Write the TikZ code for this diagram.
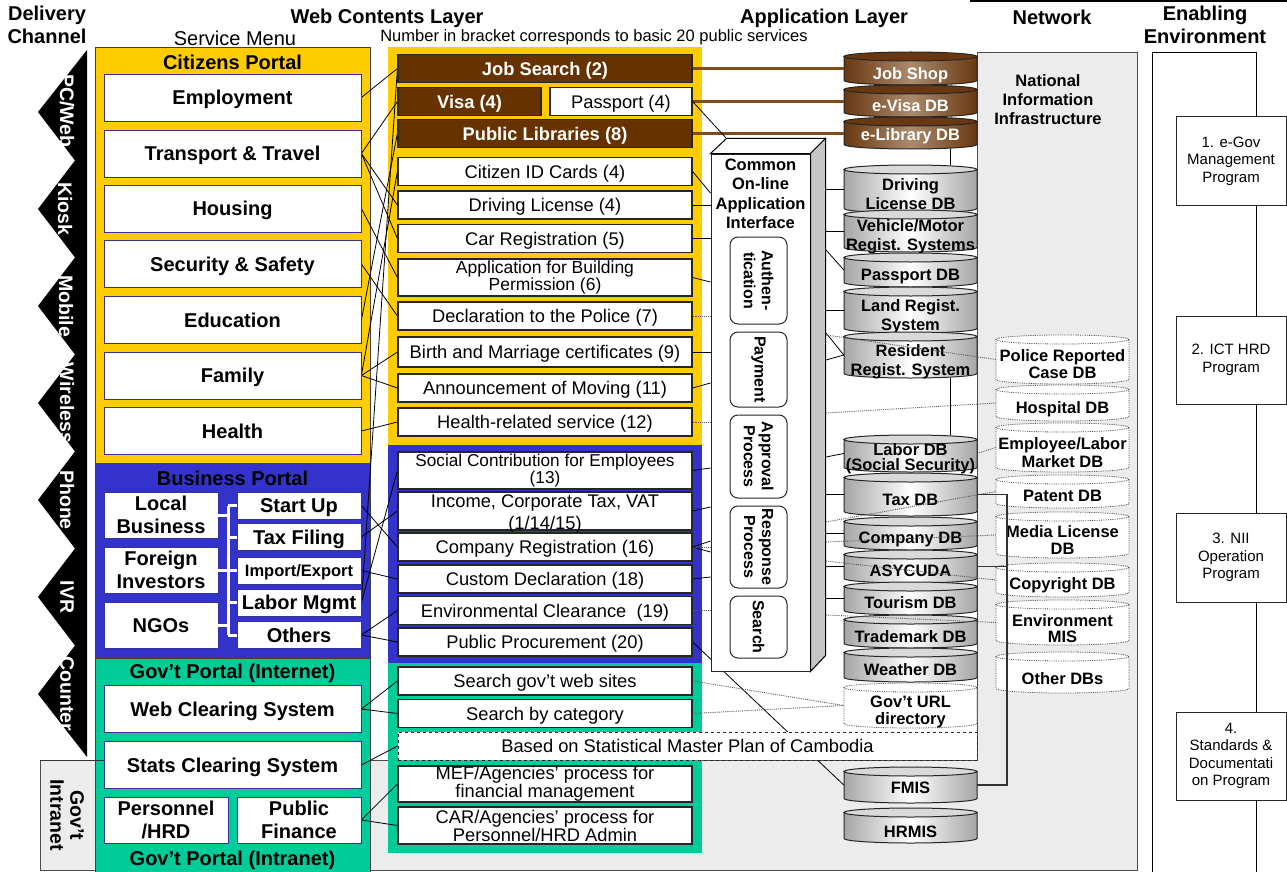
\documentclass[tikz,border=0pt]{standalone}
\usepackage{fontspec}
\setmainfont{Liberation Sans}
\usetikzlibrary{calc,positioning}

\definecolor{portalyellow}{RGB}{255,204,0}
\definecolor{portalblue}{RGB}{51,51,204}
\definecolor{portalgreen}{RGB}{0,204,153}
\definecolor{webbrown}{RGB}{102,51,0}
\definecolor{linkbrown}{RGB}{128,77,26}
\definecolor{dbbrown}{RGB}{105,56,16}
\definecolor{dblight}{RGB}{170,138,110}
\definecolor{niigray}{RGB}{236,236,236}
\definecolor{menuedge}{RGB}{51,51,153}

\pgfdeclarelayer{back}
\pgfdeclarelayer{mid}
\pgfsetlayers{back,mid,main}

\tikzset{
  oneline/.style={text height=#1, text depth=0pt},
  multi/.style={text height=, text depth=},
  hdr/.style={font=\bfseries\fontsize{20}{23}\selectfont, align=center, inner sep=0pt},
  sub/.style={font=\fontsize{20}{23}\selectfont, inner sep=0pt},
  note/.style={font=\fontsize{16.5}{19}\selectfont, inner sep=0pt},
  chan/.style={rotate=-90, text=white, font=\bfseries\fontsize{19.5}{22}\selectfont, inner sep=0pt},
  intra/.style={rotate=-90, align=center, font=\bfseries\fontsize{19.5}{20}\selectfont, inner sep=0pt},
  panel/.style={draw=black!75, line width=0.8pt},
  nii/.style={draw=black!70, line width=0.8pt, fill=niigray},
  menubox/.style={draw=menuedge, fill=white, line width=0.8pt, align=center, inner sep=0pt, oneline=14.4pt,
    font=\bfseries\fontsize{20}{23}\selectfont, minimum width=257pt, minimum height=47pt},
  bizbox/.style={menubox, minimum width=114pt, minimum height=46pt},
  actbox/.style={menubox, minimum width=124pt, minimum height=27pt},
  webbox/.style={draw=black!85, fill=white, line width=1.2pt, align=center, inner sep=0pt, oneline=13.2pt,
    font=\fontsize{18.3}{17}\selectfont, minimum width=294pt, minimum height=28pt},
  webtext/.style={align=center, inner sep=0pt, font=\fontsize{18.3}{21}\selectfont},
  brownbox/.style={webbox, fill=webbrown, text=white, font=\bfseries\fontsize{18.3}{17}\selectfont},
  smpbox/.style={webbox, dashed, line width=1pt, minimum width=579pt},
  procbox/.style={draw=black!85, fill=white, line width=1pt, rounded corners=8pt, rotate=-90,
    minimum height=57pt, align=center, inner sep=0pt, font=\bfseries\fontsize{16}{18}\selectfont},
  progbox/.style={draw=black!85, fill=white, line width=1pt, minimum width=110pt, minimum height=88pt,
    align=center, inner sep=0pt, font=\fontsize{15}{17.5}\selectfont},
  link/.style={draw=black, line width=0.8pt},
  dotlink/.style={draw=black!65, line width=0.9pt, densely dotted},
  brownlink/.style={draw=linkbrown, line width=3pt},
  treelink/.style={draw=white, line width=3pt},
  bracket/.style={draw=black!80, line width=1.8pt},
  graydb body/.style={left color=gray!70, right color=gray!70, middle color=white, draw=black!85, line width=1pt},
  graydb top/.style={fill=gray!30, draw=black!85, line width=1pt},
  graydb text/.style={font=\bfseries\fontsize{16.5}{19}\selectfont, align=center, inner sep=0pt},
  browndb body/.style={left color=dbbrown, right color=dbbrown, middle color=dblight, draw=black!85, line width=1pt},
  browndb top/.style={fill=dbbrown, draw=black!85, line width=1pt},
  browndb text/.style={graydb text, text=white},
  dotdb body/.style={fill=white, draw=black!70, line width=0.8pt, densely dotted},
  dotdb top/.style={dotdb body},
  dotdb text/.style={graydb text},
}

% database cylinder: [look]{name}{left x}{top}{bottom}{text y}{text}
\newcommand{\dbcyl}[7][graydb]{%
  \pgfmathsetmacro{\dbcx}{#3+66.5}%
  \pgfmathsetmacro{\dbty}{#4+4.5}%
  \pgfmathsetmacro{\dbby}{#5-4.5}%
  \pgfmathsetmacro{\dbcy}{(#4+#5)/2}%
  \pgfmathsetmacro{\dbh}{#5-#4}%
  \path[#1 body] (#3,\dbty) -- (#3,\dbby) arc[start angle=180, end angle=360, x radius=66.5pt, y radius=4.5pt] -- (#3+133,\dbty) -- cycle;
  \path[#1 top] (\dbcx,\dbty) ellipse[x radius=66.5pt, y radius=4.5pt];
  \node[inner sep=0pt, minimum width=133pt, minimum height=\dbh pt] (#2) at (\dbcx,\dbcy) {};
  \node[#1 text] (#2-t) at (\dbcx,#6) {#7};
}

\begin{document}
\begin{tikzpicture}[x=1pt,y=-1pt]
\useasboundingbox (0,0) rectangle (1287,872);

\begin{pgfonlayer}{back}
\fill[white] (0,0) rectangle (1287,872);
% network area and enabling column
\draw[nii] (977,52) -- (1137,52) -- (1137,870) -- (40,870) -- (40,760) -- (977,760) -- cycle;
\draw[line width=1pt, fill=white] (1152,53) rectangle (1256,880);
\draw[line width=1.5pt] (970,1) -- (1287,1);
% delivery channels
\fill[black] (87,50) foreach \t in {112,209,306,403,500,597} { -- (38,\t) -- (75,\t+48.5) } -- (38,694) -- (87,757) -- cycle;
\node[chan] (ch1) at (67,111) {PC/Web};
\node[chan] (ch2) at (65,209) {Kiosk};
\node[chan] (ch3) at (66,306) {Mobile};
\node[chan] (ch4) at (67,403) {Wireless};
\node[chan] (ch5) at (67,500) {Phone};
\node[chan] (ch6) at (67,597) {IVR};
\node[chan] (ch7) at (67,694) {Counter};
\node[intra] (intra) at (67,815) {Gov’t\\Intranet};
% portals
\draw[panel, fill=portalyellow] (95,47) rectangle (370,463);
\draw[panel, fill=portalblue] (95,463) rectangle (370,658);
\draw[panel, fill=portalgreen] (95,658) rectangle (370,880);
\draw[black!80, line width=0.8pt] (40,760) -- (104,760);
% web contents
\fill[portalyellow] (388,47) rectangle (702,445);
\fill[portalblue] (388,445) rectangle (702,663);
\fill[portalgreen] (388,663) rectangle (702,853);
\end{pgfonlayer}

% headings
\node[hdr] (hdel) at (47,25) {Delivery\\Channel};
\node[hdr] (hweb) at (387,18) {Web Contents Layer};
\node[sub] (hsvc) at (235,38) {Service Menu};
\node[note] (hnum) at (594,37) {Number in bracket corresponds to basic 20 public services};
\node[hdr] (happ) at (824,18) {Application Layer};
\node[hdr] (hnet) at (1052,17) {Network};
\node[hdr] (henv) at (1205,25) {Enabling\\Environment};

% service menu
\node[hdr] (citt) at (232.5,62) {Citizens Portal};
\node[menubox] (emp) at (232.5,97.5) {Employment};
\node[menubox] (trans) at (232.5,153.5) {Transport \& Travel};
\node[menubox] (house) at (232.5,208.5) {Housing};
\node[menubox] (secur) at (232.5,264) {Security \& Safety};
\node[menubox] (edu) at (232.5,320) {Education};
\node[menubox] (fam) at (232.5,375.5) {Family};
\node[menubox] (health) at (232.5,431) {Health};

\node[hdr] (bust) at (232.5,478) {Business Portal};
\node[bizbox, multi] (local) at (161,515) {Local\\Business};
\node[bizbox, multi] (foreign) at (161,570) {Foreign\\Investors};
\node[bizbox] (ngo) at (161,625.5) {NGOs};
\node[actbox] (startup) at (299,505.5) {Start Up};
\node[actbox] (taxf) at (299,537) {Tax Filing};
\node[actbox, oneline=11.9pt, font=\bfseries\fontsize{16.5}{19}\selectfont] (impexp) at (299,570.5) {Import/Export};
\node[actbox] (labor) at (299,602.5) {Labor Mgmt};
\node[actbox] (others) at (299,635) {Others};
\coordinate (tree) at (228,0);
\draw[treelink] (startup.west -| tree) -- (others.west -| tree);
\foreach \n in {local,foreign,ngo} \draw[treelink] (\n.east) -- (\n.east -| tree);
\foreach \n in {startup,taxf,impexp,labor,others} \draw[treelink] (\n.west -| tree) -- (\n.west);

\node[hdr] (govt) at (232.5,673) {Gov’t Portal (Internet)};
\node[menubox] (webclr) at (232.5,709) {Web Clearing System};
\node[menubox] (stats) at (232.5,765) {Stats Clearing System};
\node[actbox, multi, minimum height=46pt] (pers) at (166,820) {Personnel\\/HRD};
\node[actbox, multi, minimum height=46pt] (pubfin) at (299,820) {Public\\Finance};
\node[hdr] (govi) at (232.5,860) {Gov’t Portal (Intranet)};

% web contents
\node[brownbox] (jobs) at (545,68.5) {Job Search (2)};
\node[brownbox, minimum width=143pt] (visa) at (469.5,101.5) {Visa (4)};
\node[webbox, minimum width=142pt] (passp) at (621,101.5) {Passport (4)};
\node[brownbox] (lib) at (545,133.5) {Public Libraries (8)};
\node[webbox] (citid) at (545,171.5) {Citizen ID Cards (4)};
\node[webbox] (drvl) at (545,205) {Driving License (4)};
\node[webbox] (carreg) at (545,238.5) {Car Registration (5)};
\node[webbox, multi, minimum height=37pt, font=\fontsize{17.5}{17}\selectfont] (build) at (545,277.5) {Application for Building\\Permission (6)};
\node[webbox] (police) at (545,316) {Declaration to the Police (7)};
\node[webbox, minimum height=30pt] (birth) at (545,352) {Birth and Marriage certificates (9)};
\node[webbox] (moving) at (545,388) {Announcement of Moving (11)};
\node[webbox] (hlthsv) at (545,422) {Health-related service (12)};
\node[webbox, multi, minimum height=37pt, font=\fontsize{17.2}{17}\selectfont] (social) at (545,470.5) {Social Contribution for Employees\\(13)};
\node[webbox, minimum height=38pt] (income) at (545,511) {};
\node[webtext] (income-t) at (545,514) {Income, Corporate Tax, VAT\\(1/14/15)};
\node[webbox] (compreg) at (545,547) {Company Registration (16)};
\node[webbox] (custom) at (545,579) {Custom Declaration (18)};
\node[webbox] (envclr) at (545,610.5) {Environmental Clearance\ \ (19)};
\node[webbox] (procure) at (545,642) {Public Procurement (20)};
\node[webbox] (srchweb) at (545,681) {Search gov’t web sites};
\node[webbox] (srchcat) at (545,713.5) {Search by category};
\node[smpbox] (smp) at (687.5,746) {Based on Statistical Master Plan of Cambodia};
\node[webbox, multi, minimum height=36pt] (mef) at (545,784) {MEF/Agencies’ process for\\financial management};
\node[webbox, multi, minimum height=37pt] (car) at (545,825.5) {CAR/Agencies’ process for\\Personnel/HRD Admin};

% common on-line application interface
\node[draw=black!85, fill=white, line width=1pt, minimum width=99pt, minimum height=517pt, inner sep=0pt] (cai) at (760.5,412.5) {};
\coordinate (caitl) at ($(cai.north west)+(16,-15)$);
\draw[line width=1pt, fill=white] (cai.north west) -- (caitl) -- ++(99,0) coordinate (caitr) -- (cai.north east) -- cycle;
\draw[line width=1pt, fill=gray!45] (cai.north east) -- (caitr) -- ++(0,517) -- (cai.south east) -- cycle;
\coordinate (cair) at (826,0);
\node[graydb text, font=\bfseries\fontsize{16.5}{19.5}\selectfont] (cait) at (760.5,194) {Common\\On-line\\Application\\Interface};
\node[procbox, minimum width=87pt] (auth) at (758.5,280.5) {Authen-\\tication};
\node[procbox, minimum width=75pt] (pay) at (758.5,369.5) {Payment};
\node[procbox, minimum width=83pt] (appr) at (758.5,456.5) {Approval\\Process};
\node[procbox, minimum width=82pt] (resp) at (758.5,547) {Response\\Process};
\node[procbox, minimum width=62pt] (srch) at (758.5,627) {Search};

% databases
\dbcyl[browndb]{jobshop}{844}{52}{85}{75.5}{Job Shop}
\dbcyl[browndb]{evisa}{844}{85}{117}{106}{e-Visa DB}
\dbcyl[browndb]{elib}{844}{117}{149}{136.5}{e-Library DB}
\dbcyl{drv}{844}{165}{213}{194.5}{Driving\\License DB}
\dbcyl{veh}{844}{210}{252}{236.5}{Vehicle/Motor\\Regist. Systems}
\dbcyl{pdb}{844}{253}{287}{276.5}{Passport DB}
\dbcyl{land}{844}{287}{333}{317}{Land Regist.\\System}
\dbcyl{res}{844}{332}{378}{362}{Resident\\Regist. System}
\dbcyl{labdb}{844}{435}{472}{459}{Labor DB\\[-4pt](Social Security)}
\dbcyl{tax}{844}{473}{516}{500}{Tax DB}
\dbcyl{comp}{844}{517}{550}{539.5}{Company DB}
\dbcyl{asy}{844}{550}{583}{571}{ASYCUDA}
\dbcyl{tour}{844}{582}{615}{603}{Tourism DB}
\dbcyl{trade}{844}{615}{648}{637}{Trademark DB}
\dbcyl{weather}{844}{648}{682}{670}{Weather DB}
\dbcyl[dotdb]{govurl}{844}{683}{728}{711.5}{Gov’t URL\\[-2pt]directory}
\dbcyl{fmis}{844}{767}{803}{788}{FMIS}
\dbcyl{hrmis}{844}{808}{843}{832}{HRMIS}

\dbcyl[dotdb]{pol}{996}{335}{384}{364.5}{Police Reported\\[-2pt]Case DB}
\dbcyl[dotdb]{hosp}{996}{385}{421}{409.5}{Hospital DB}
\dbcyl[dotdb]{empl}{996}{423}{472}{453}{Employee/Labor\\[-1pt]Market DB}
\dbcyl[dotdb]{pat}{996}{475}{508}{496}{Patent DB}
\dbcyl[dotdb]{med}{996}{512}{558}{540.5}{Media License\\[-2pt]DB}
\dbcyl[dotdb]{copy}{996}{563}{597}{585.5}{Copyright DB}
\dbcyl[dotdb]{envmis}{996}{600}{645}{629}{Environment\\[-3pt]MIS}
\dbcyl[dotdb]{other}{996}{652}{693}{679}{Other DBs}

\node[graydb text] (niit) at (1048,100) {National\\Information\\Infrastructure};

% enabling environment
\node[progbox] (prog1) at (1231,161) {1. e-Gov\\Management\\Program};
\node[progbox] (prog2) at (1231,360) {2. ICT HRD\\Program};
\node[progbox, minimum height=89pt] (prog3) at (1231,557.5) {3. NII\\Operation\\Program};
\node[progbox] (prog4) at (1231,756) {4.\\Standards \&\\Documentati\\on Program};

% menu to web contents
\begin{pgfonlayer}{mid}
\draw[link] (emp.east) -- (jobs.west);
\draw[link] (trans.east) -- (visa.west);
\draw[link] (trans.east) -- (drvl.west);
\draw[link] (trans.east) -- (carreg.west);
\draw[link] (house.east) -- (build.west);
\draw[link] (secur.east) -- (police.west);
\draw[link] (edu.east) -- (lib.west);
\draw[link] (fam.east) -- (citid.west);
\draw[link] (fam.east) -- (birth.west);
\draw[link] (fam.east) -- (moving.west);
\draw[link] (health.east) -- (hlthsv.west);
\draw[link] (startup.east) -- (compreg.west);
\draw[link] (taxf.east) -- (income.west);
\draw[link] (impexp.east) -- (custom.west);
\draw[link] (labor.east) -- (social.west);
\draw[link] (labor.east) -- (jobs.west);
\draw[link] (others.east) -- (envclr.west);
\draw[link] (others.east) -- (procure.west);
\draw[link] (webclr.east) -- (srchweb.west);
\draw[link] (webclr.east) -- (srchcat.west);
\draw[link] (stats.east) -- (smp.west);
\draw[link] (pubfin.east) -- (mef.west);
\draw[link] (pubfin.east) -- (car.west);
\draw[link] (procure.east) -- (fmis.west);
\end{pgfonlayer}

% web contents to applications
\draw[brownlink] (jobs.east) -- (jobs.east -| jobshop.west);
\draw[brownlink] (passp.east) -- (passp.east -| evisa.west);
\draw[brownlink] (lib.east) -- (lib.east -| elib.west);
\draw[link] (passp.east) -- (caitl);
\draw[link] (citid.east) -- ($(citid.east -| cai.west)+(0,21.5)$);
\draw[link] (drvl.east) -- (drvl.east -| cai.west);
\draw[link] (carreg.east) -- (carreg.east -| cai.west);
\draw[link] (build.east) -- ($(build.east -| cai.west)+(0,4.5)$);
\draw[dotlink] (police.east) -- (police.east -| cai.west);
\draw[link] (birth.east) -- (birth.east -| cai.west);
\draw[link] (moving.east) -- ($(moving.east -| cai.west)+(0,-5)$);
\draw[dotlink] (hlthsv.east) -- (hlthsv.east -| cai.west);
\draw[link] (social.east) -- ($(social.east -| cai.west)+(0,-2.5)$);
\draw[link] (income.east) -- ($(income.east -| cai.west)+(0,-4)$);
\draw[link] (compreg.east) -- ($(compreg.east -| cai.west)+(0,-6)$);
\draw[link] (compreg.east) -- ($(compreg.east -| cai.west)+(0,5)$);
\draw[dotlink] (compreg.east) -- (compreg.east -| cai.west);
\draw[link] (custom.east) -- ($(custom.east -| cai.west)+(0,-2)$);
\draw[dotlink] (envclr.east) -- (envclr.east -| cai.west);
\draw[dotlink] (srchweb.east) -- (govurl.west);
\draw[dotlink] (srchcat.east) -- (govurl.west);

% interface to databases
\coordinate (vline) at (950,0);
\draw[link] (elib.south -| vline) -- (drv.north -| vline);
\draw[link] (res.south -| vline) -- (labdb.north -| vline);
\draw[link] (cair |- drv.west) -- (drv.west);
\draw[link] (cair |- veh.west) -- (veh.west);
\draw[link] ($(cair |- pdb.west)+(0,-20)$) -- (pdb.west);
\draw[link] (cair |- land.west) -- (land.west);
\draw[link] ($(cair |- res.west)+(0,-22)$) -- (res.west);
\draw[link] ($(cair |- res.west)+(0,5)$) -- (res.west);
\draw[link] ($(cair |- labdb.west)+(0,3.5)$) -- (labdb.west);
\draw[link] (cair |- tax.west) -- (tax.west);
\draw[link] (cair |- comp.west) -- (comp.west);
\draw[link] (cair |- asy.west) -- (asy.west);
\draw[link] (cair |- tour.west) -- (tour.west);
\draw[dotlink] ($(cair |- res.west)+(0,-20)$) -- (pol.west);
\draw[dotlink] ($(cair |- hosp.west)+(0,10)$) -- (hosp.west);
\draw[dotlink] (labdb.east) -- (empl.west);
\draw[dotlink] ($(cair |- pat.west)+(0,30.5)$) -- (pat.west);
\draw[dotlink] ($(cair |- med.west)+(0,7)$) -- (med.west);
\draw[dotlink] ($(cair |- copy.west)+(0,-19)$) -- (copy.west);
\draw[dotlink] ($(cair |- envmis.west)+(0,-7.5)$) -- (envmis.west);
\draw[bracket] (tax.east) -- ++(30,0) |- (fmis.east);
\draw[bracket] (asy.east) -- ++(30,0);

\end{tikzpicture}
\end{document}
